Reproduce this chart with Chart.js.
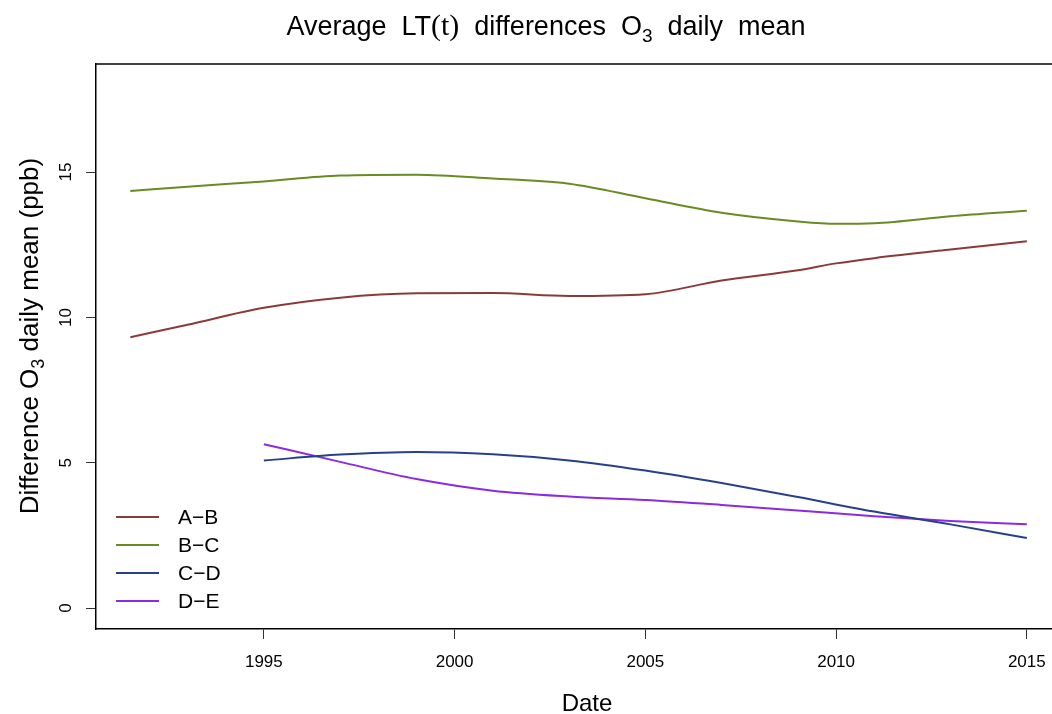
<!DOCTYPE html>
<html>
<head>
<meta charset="utf-8">
<script src="https://cdn.jsdelivr.net/npm/chart.js@4"></script>
<style>
  html, body { margin: 0; padding: 0; background: #fff; overflow: hidden; }
  canvas { display: block; }
</style>
</head>
<body>
<canvas id="chart" width="1052" height="714"></canvas>
<script>
// data
const yearsLong = [1991.5, 1993, 1995, 1997, 1999, 2001, 2003, 2005, 2007, 2009, 2010, 2011, 2013, 2015];
const yearsShort = [1995, 1997, 1999, 2001, 2003, 2005, 2007, 2009, 2011, 2013, 2015];
const seriesAB = [9.32, 9.75, 10.33, 10.68, 10.83, 10.84, 10.74, 10.80, 11.27, 11.62, 11.86, 12.04, 12.34, 12.62];
const seriesBC = [14.35, 14.50, 14.68, 14.88, 14.91, 14.78, 14.60, 14.10, 13.60, 13.30, 13.22, 13.24, 13.48, 13.67];
const seriesCD = [5.08, 5.28, 5.37, 5.29, 5.08, 4.73, 4.30, 3.82, 3.32, 2.88, 2.41];
const seriesDE = [5.64, 5.03, 4.44, 4.04, 3.84, 3.72, 3.55, 3.36, 3.16, 3.00, 2.88];
const seriesLabels = ['A\u2212B', 'B\u2212C', 'C\u2212D', 'D\u2212E'];
const xTickValues = [1995, 2000, 2005, 2010, 2015];
const yTickValues = [0, 5, 10, 15];

const FONT = '"Liberation Sans", Arial, sans-serif';

const pts = (xs, ys) => xs.map((x, i) => ({ x: x, y: ys[i] }));

// title, axis titles, rotated y labels, top border, legend
const decorations = {
  id: 'decorations',
  afterDraw(chart) {
    const ctx = chart.ctx;
    const ca = chart.chartArea;
    const yScale = chart.scales.y;
    ctx.save();
    ctx.fillStyle = '#000';

    // top border of the box
    ctx.strokeStyle = '#000';
    ctx.lineWidth = 1.5;
    ctx.beginPath();
    ctx.moveTo(ca.left, ca.top);
    ctx.lineTo(ca.right, ca.top);
    ctx.stroke();

    // y tick labels, rotated like R
    ctx.font = '17px ' + FONT;
    ctx.textAlign = 'center';
    ctx.textBaseline = 'middle';
    yTickValues.forEach(v => {
      const py = yScale.getPixelForValue(v);
      ctx.save();
      ctx.translate(66, py);
      ctx.rotate(-Math.PI / 2);
      ctx.fillText(String(v), 0, 0);
      ctx.restore();
    });

    // title with subscript
    const main = 27;
    const parts = [
      { t: 'Average', f: main + 'px ' + FONT },
      { t: '  ', f: main + 'px ' + FONT },
      { t: 'LT', f: main + 'px ' + FONT },
      { t: '(t)', f: (main + 3) + 'px "Liberation Serif", serif' },
      { t: '  differences  O', f: main + 'px ' + FONT },
      { t: '3', f: Math.round(main * 0.72) + 'px ' + FONT, sub: 7 },
      { t: '  daily  mean', f: main + 'px ' + FONT }
    ];
    let total = 0;
    parts.forEach(p => { ctx.font = p.f; p.w = ctx.measureText(p.t).width; total += p.w; });
    let x = 546 - total / 2;
    ctx.textAlign = 'left';
    ctx.textBaseline = 'alphabetic';
    parts.forEach(p => {
      ctx.font = p.f;
      ctx.fillText(p.t, x, 35 + (p.sub || 0));
      x += p.w;
    });

    // x axis title
    ctx.font = '24px ' + FONT;
    ctx.textAlign = 'center';
    ctx.fillText('Date', 587, 711);

    // y axis title, rotated
    const yParts = [
      { t: 'Difference O', f: '26px ' + FONT },
      { t: '3', f: '18px ' + FONT, sub: 6 },
      { t: ' daily mean (ppb)', f: '26px ' + FONT }
    ];
    let yt = 0;
    yParts.forEach(p => { ctx.font = p.f; p.w = ctx.measureText(p.t).width; yt += p.w; });
    ctx.save();
    ctx.translate(38, 336);
    ctx.rotate(-Math.PI / 2);
    ctx.textAlign = 'left';
    let yx = -yt / 2;
    yParts.forEach(p => {
      ctx.font = p.f;
      ctx.fillText(p.t, yx, p.sub || 0);
      yx += p.w;
    });
    ctx.restore();

    // legend in the bottom-left corner of the plot
    ctx.font = '21px ' + FONT;
    ctx.textAlign = 'left';
    ctx.textBaseline = 'middle';
    chart.data.datasets.forEach((ds, i) => {
      const ly = ca.bottom - 112 + i * 28;
      ctx.strokeStyle = ds.borderColor;
      ctx.lineWidth = 2;
      ctx.beginPath();
      ctx.moveTo(ca.left + 20, ly);
      ctx.lineTo(ca.left + 63, ly);
      ctx.stroke();
      ctx.fillStyle = '#000';
      ctx.fillText(ds.label, ca.left + 82, ly + 1);
    });

    ctx.restore();
  }
};

const ctx = document.getElementById('chart').getContext('2d');
const chart = new Chart(ctx, {
  type: 'line',
  data: {
    datasets: [
      { label: seriesLabels[0], data: pts(yearsLong, seriesAB), borderColor: '#8B3A3A' },
      { label: seriesLabels[1], data: pts(yearsLong, seriesBC), borderColor: '#698B22' },
      { label: seriesLabels[2], data: pts(yearsShort, seriesCD), borderColor: '#27408B' },
      { label: seriesLabels[3], data: pts(yearsShort, seriesDE), borderColor: '#8A2BE2' }
    ]
  },
  options: {
    responsive: false,
    animation: false,
    layout: { padding: { top: 64, left: 0, right: 0, bottom: 0 } },
    elements: {
      point: { radius: 0 },
      line: { borderWidth: 2, cubicInterpolationMode: 'monotone', fill: false }
    },
    plugins: {
      legend: { display: false },
      title: { display: false },
      tooltip: { enabled: false }
    },
    scales: {
      x: {
        type: 'linear',
        min: 1990.6,
        max: 2015.66,
        afterBuildTicks: scale => { scale.ticks = xTickValues.map(v => ({ value: v })); },
        afterFit: scale => {
          scale.height = 85;
          scale.paddingLeft = 0;
          scale.paddingRight = 0;
        },
        grid: { drawOnChartArea: false, drawTicks: true, tickLength: 10, color: '#333' },
        border: { display: true, color: '#000', width: 1.5 },
        ticks: {
          color: '#000',
          font: { family: FONT, size: 17 },
          padding: 13,
          maxRotation: 0,
          callback: v => String(v)
        }
      },
      y: {
        type: 'linear',
        min: -0.72,
        max: 18.72,
        afterBuildTicks: scale => { scale.ticks = yTickValues.map(v => ({ value: v })); },
        afterFit: scale => {
          scale.width = 96;
          scale.paddingTop = 0;
          scale.paddingBottom = 0;
        },
        grid: { drawOnChartArea: false, drawTicks: true, tickLength: 10, color: '#333' },
        border: { display: true, color: '#000', width: 1.5 },
        ticks: { display: false }
      }
    }
  },
  plugins: [decorations]
});
</script>
</body>
</html>
